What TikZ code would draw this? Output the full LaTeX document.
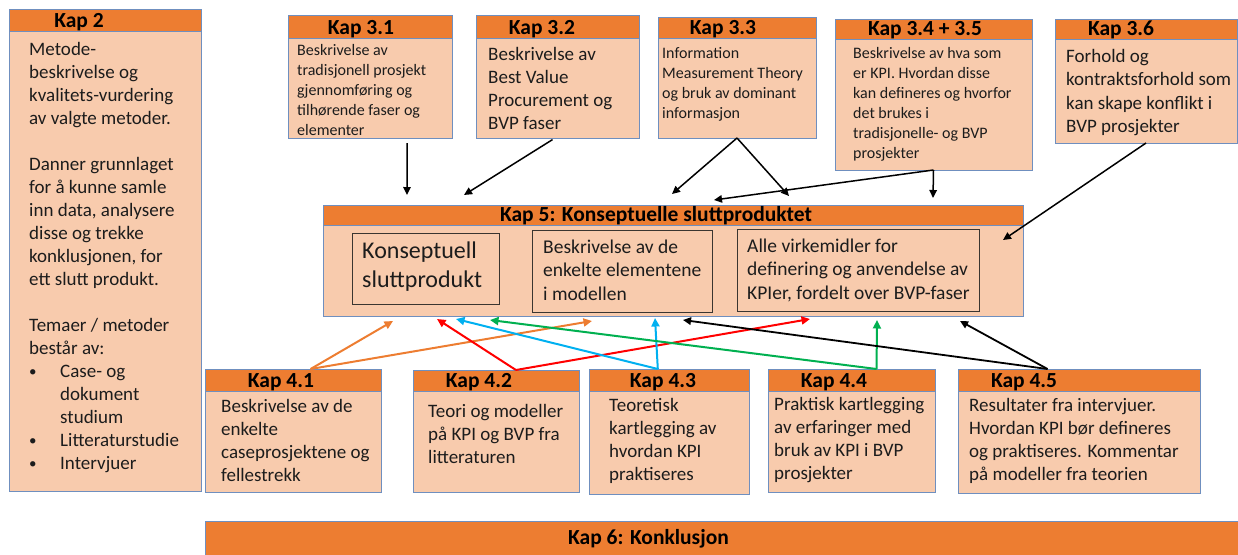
\documentclass[tikz,border=0pt]{standalone}
\usepackage{fontspec}
\setmainfont{Carlito}
\usetikzlibrary{arrows.meta,calc}

\definecolor{hdrorange}{HTML}{ED7D31}
\definecolor{peach}{HTML}{F8CBAD}
\definecolor{edgeblue}{HTML}{6F8FBF}
\definecolor{innerline}{HTML}{3A3530}
\definecolor{ink}{HTML}{1C1C1C}
\definecolor{arrblue}{HTML}{00B0F0}
\definecolor{arrgreen}{HTML}{00B050}
\definecolor{arrred}{HTML}{FF0000}
\definecolor{arrorange}{HTML}{ED7D31}

% first-line strut: node top = first baseline - 0.85em
\newcommand\lnstrut{\rule{0pt}{0.85em}}
\newcommand\kbul{\makebox[31pt][l]{\raisebox{1pt}{\fontsize{15}{15}\selectfont •}}}
\newcommand\kind{\hspace*{31pt}}

\tikzset{
  panel/.style={draw=edgeblue, fill=peach, line width=1pt, anchor=north west, inner sep=0pt, outer sep=0pt},
  headband/.style={draw=edgeblue, fill=hdrorange, line width=1pt, anchor=north west, inner sep=0pt, outer sep=0pt},
  headtext/.style={anchor=base, inner sep=0pt, text=black, font=\bfseries\fontsize{21.5}{24}\selectfont},
  body/.style={anchor=north west, align=left, inner sep=0pt, text=ink},
  bodyL/.style={body, font=\fontsize{19}{23}\selectfont},
  bodyS/.style={body, font=\fontsize{16}{20}\selectfont},
  framed/.style={draw=innerline, line width=0.9pt, anchor=north west, inner sep=0pt, outer sep=0pt},
  link/.style={-{Triangle[length=8pt,width=7.5pt]}, line width=1.5pt, draw=black},
  clink/.style={-{Triangle[length=8.5pt,width=8pt]}, line width=2pt},
}

% chapter box: name, x1, y1, x2, y2, header bottom, title centre x, title
\newcommand\kapbox[8]{%
  \node[panel, minimum width={#4-#2}, minimum height={#5-#3}] (#1) at (#2,#3) {};
  \node[headband, minimum width={#4-#2}, minimum height={#6-#3}] (#1h) at (#2,#3) {};
  \node[headtext] (#1t) at (#7,#6-3.5) {#8};
}

\begin{document}
\begin{tikzpicture}[x=1pt,y=-1pt]
\useasboundingbox (0,0) rectangle (1238,554);

% ---- chapter 2 ----
\kapbox{k2}{9}{9}{201}{491}{31}{79}{Kap 2}
\node[bodyL] (k2b) at (29,39) {\lnstrut Metode-\\beskrivelse og\\kvalitets-vurdering\\av valgte metoder.\\[23pt]Danner grunnlaget\\for å kunne samle\\inn data, analysere\\disse og trekke\\konklusjonen, for\\ett slutt produkt.\\[23pt]Temaer / metoder\\består av:\\\kbul Case- og\\\kind dokument\\\kind studium\\\kbul Litteraturstudie\\\kbul Intervjuer};

% ---- chapter 3 ----
\kapbox{k31}{288}{15}{452}{138}{38}{361}{Kap 3.1}
\node[bodyS] (k31b) at (297,41.7) {\lnstrut Beskrivelse av\\tradisjonell prosjekt\\gjennomføring og\\tilhørende faser og\\elementer};

\kapbox{k32}{476}{15}{639}{138}{38}{542}{Kap 3.2}
\node[bodyL] (k32b) at (488,43.9) {\lnstrut Beskrivelse av\\Best Value\\Procurement og\\BVP faser};

\kapbox{k33}{658}{17}{816}{138}{38}{723}{Kap 3.3}
\node[bodyS] (k33b) at (662,44.4) {\lnstrut Information\\Measurement Theory\\og bruk av dominant\\informasjon};

\kapbox{k34}{835}{19}{1032}{170}{39}{925}{Kap 3.4 + 3.5}
\node[bodyS] (k34b) at (853,44.7) {\lnstrut Beskrivelse av hva som\\er KPI. Hvordan disse\\kan defineres og hvorfor\\det brukes i\\tradisjonelle- og BVP\\prosjekter};

\kapbox{k36}{1055}{19}{1237}{143}{39}{1121}{Kap 3.6}
\node[body, font=\fontsize{19}{23.5}\selectfont] (k36b) at (1066,45.9) {\lnstrut Forhold og\\kontraktsforhold som\\kan skape konflikt i\\BVP prosjekter};

% ---- chapter 5 ----
\kapbox{k5}{323}{205}{1023}{316}{225}{656}{Kap 5: Konseptuelle sluttproduktet}
\node[framed, minimum width=147, minimum height=71] (m1) at (352,233) {};
\node[body, font=\fontsize{24}{29.3}\selectfont] (m1b) at (362,237.6) {\lnstrut Konseptuell\\sluttprodukt};
\node[framed, minimum width=180, minimum height=82] (m2) at (532,230) {};
\node[body, font=\fontsize{19.5}{23.5}\selectfont] (m2b) at (543,236.4) {\lnstrut Beskrivelse av de\\enkelte elementene\\i modellen};
\node[framed, minimum width=242, minimum height=82] (m3) at (737,229) {};
\node[body, font=\fontsize{19.5}{23.5}\selectfont] (m3b) at (747,235.4) {\lnstrut Alle virkemidler for\\definering og anvendelse av\\KPIer, fordelt over BVP-faser};

% ---- chapter 4 ----
\kapbox{k41}{205}{369}{381}{492}{391}{281}{Kap 4.1}
\node[bodyL] (k41b) at (221,395.9) {\lnstrut Beskrivelse av de\\enkelte\\caseprosjektene og\\fellestrekk};

\kapbox{k42}{413}{370}{579}{492}{391}{479}{Kap 4.2}
\node[bodyL] (k42b) at (428,400.9) {\lnstrut Teori og modeller\\på KPI og BVP fra\\litteraturen};

\kapbox{k43}{589}{369}{749}{494}{391}{663}{Kap 4.3}
\node[bodyL] (k43b) at (609,395.5) {\lnstrut Teoretisk\\kartlegging av\\hvordan KPI\\praktiseres};

\kapbox{k44}{768}{369}{935}{492}{391}{834}{Kap 4.4}
\node[bodyL] (k44b) at (774,393.9) {\lnstrut Praktisk kartlegging\\av erfaringer med\\bruk av KPI i BVP\\prosjekter};

\kapbox{k45}{958}{369}{1200}{493}{391}{1024}{Kap 4.5}
\node[bodyL] (k45b) at (969,394.9) {\lnstrut Resultater fra intervjuer.\\Hvordan KPI bør defineres\\og praktiseres. Kommentar\\på modeller fra teorien};

% ---- chapter 6 ----
\node[headband, minimum width=1036, minimum height=36] (k6) at (205,521) {};
\node[anchor=base west, inner sep=0pt, text=black, font=\bfseries\fontsize{21.5}{24}\selectfont] (k6t) at (568,544) {Kap 6: Konklusjon};

% ---- arrow tips near chapter 5 ----
\coordinate (t31) at (407,195);
\coordinate (t32) at (464,195);
\coordinate (t33a) at (672,194);
\coordinate (t33b) at (789,196);
\coordinate (t34a) at (714,200);
\coordinate (t34b) at (933,198);
\coordinate (t36) at (1003,240);
\coordinate (b41a) at (393,321);
\coordinate (b41b) at (592,321);
\coordinate (b42a) at (437,319);
\coordinate (b42b) at (810,319);
\coordinate (b43a) at (456,319);
\coordinate (b43b) at (655,318);
\coordinate (b44a) at (490,320);
\coordinate (b44b) at (877,320);
\coordinate (b45a) at (683,320);
\coordinate (b45b) at (960,321);

% ---- connectors from chapter 3 ----
\draw[link, shorten <=5pt] ($(k31.south west)!0.726!(k31.south east)$) -- (t31);
\draw[link, shorten <=3pt] ($(k32.south west)!0.485!(k32.south east)$) -- (t32);
\draw[link] (k33.south) -- (t33a);
\draw[link] (k33.south) -- (t33b);
\draw[link] (k34.south) -- (t34a);
\draw[link] (k34.south) -- (t34b);
\draw[link] (k36.south) -- (t36);

% ---- connectors from chapter 4 ----
\draw[clink, arrorange] ($(k41h.north west)!0.6!(k41h.north east)$) -- (b41a);
\draw[clink, arrorange] ($(k41h.north west)!0.6!(k41h.north east)$) -- (b41b);
\draw[clink, arrred] ($(k42h.north west)!0.62!(k42h.north east)$) -- (b42a);
\draw[clink, arrred] ($(k42h.north west)!0.62!(k42h.north east)$) -- (b42b);
\draw[clink, arrblue] ($(k43h.north west)!0.43!(k43h.north east)$) -- (b43a);
\draw[clink, arrblue] ($(k43h.north west)!0.43!(k43h.north east)$) -- (b43b);
\draw[clink, arrgreen] ($(k44h.north west)!0.65!(k44h.north east)$) -- (b44a);
\draw[clink, arrgreen] ($(k44h.north west)!0.65!(k44h.north east)$) -- (b44b);
\draw[link, line width=1.8pt] ($(k45h.north west)!0.37!(k45h.north east)$) -- (b45a);
\draw[link, line width=1.8pt] ($(k45h.north west)!0.37!(k45h.north east)$) -- (b45b);
\end{tikzpicture}
\end{document}
